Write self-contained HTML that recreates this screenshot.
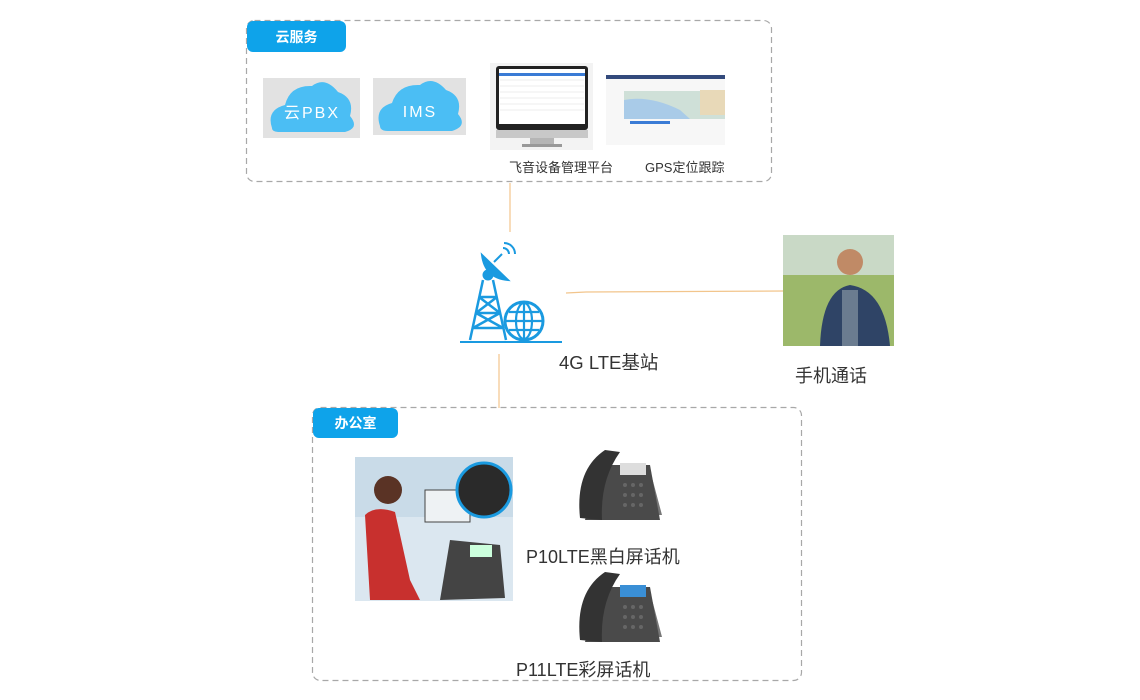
<!DOCTYPE html>
<html><head><meta charset="utf-8"><style>
body{margin:0;width:1140px;height:700px;background:#fff;position:relative;overflow:hidden;font-family:"Liberation Sans","Noto Sans CJK SC",sans-serif;}
.a{position:absolute}
.badge{position:absolute;background:#0ea3ea;color:#fff;font-weight:bold;font-size:14px;border-radius:6px;display:flex;align-items:center;justify-content:center}
.lbl{position:absolute;color:#333;white-space:nowrap}
</style></head><body>
<svg class="a" style="left:0;top:0" width="1140" height="700">
<rect x="246.5" y="20.5" width="525" height="161" rx="8" fill="none" stroke="#a8a8a8" stroke-width="1.2" stroke-dasharray="6,4"/>
<rect x="312.5" y="407.5" width="489" height="273" rx="8" fill="none" stroke="#a8a8a8" stroke-width="1.2" stroke-dasharray="6,4"/>
</svg>
<div class="badge" style="left:247px;top:21px;width:99px;height:31px">云服务</div>
<div class="badge" style="left:313px;top:408px;width:85px;height:30px">办公室</div>

<svg class="a" style="left:0;top:0" width="1140" height="700">
<g stroke="#f2c58c" stroke-width="1.2" fill="none">
<line x1="510" y1="183" x2="510" y2="232"/>
<polyline points="566,293 586,292 784,291"/>
<line x1="499" y1="354" x2="499" y2="408"/>
</g>
<rect x="263" y="78" width="97" height="60" fill="#e2e2e2"/>
<path d="M272 128 Q266 110 285 105 Q290 85 312 86 Q325 76 338 92 Q355 98 350 116 Q360 128 345 132 L280 132 Q272 132 272 128Z" fill="#4bbef4"/>
<rect x="373" y="78" width="93" height="57" fill="#e2e2e2"/>
<path d="M380 126 Q374 108 392 103 Q398 84 420 85 Q433 75 446 90 Q463 96 458 114 Q468 126 452 131 L388 131 Q380 131 380 126Z" fill="#4bbef4"/>
<text x="312" y="118" font-size="16" fill="#fff" text-anchor="middle" font-family="Liberation Sans,Noto Sans CJK SC,sans-serif" letter-spacing="2">云PBX</text>
<text x="420" y="117" font-size="16" fill="#fff" text-anchor="middle" font-family="Liberation Sans,sans-serif" letter-spacing="2">IMS</text>
<rect x="490" y="63" width="103" height="87" fill="#f3f3f3"/>
<rect x="496" y="66" width="92" height="64" rx="3" fill="#222"/>
<rect x="499" y="69" width="86" height="55" fill="#fff"/>
<rect x="499" y="73" width="86" height="3" fill="#3a7bd5"/>
<g stroke="#ddd" stroke-width="0.6"><line x1="500" y1="80" x2="584" y2="80"/><line x1="500" y1="86" x2="584" y2="86"/><line x1="500" y1="92" x2="584" y2="92"/><line x1="500" y1="98" x2="584" y2="98"/><line x1="500" y1="104" x2="584" y2="104"/><line x1="500" y1="110" x2="584" y2="110"/></g>
<rect x="496" y="130" width="92" height="8" fill="#c8c8c8"/>
<rect x="530" y="138" width="24" height="7" fill="#b5b5b5"/>
<rect x="522" y="144" width="40" height="3" fill="#999"/>
<rect x="606" y="75" width="119" height="70" fill="#f7f7f7"/>
<rect x="606" y="75" width="119" height="4" fill="#334a7c"/>
<rect x="624" y="91" width="101" height="28" fill="#cfe0d8"/>
<path d="M624 100 Q650 95 680 110 L690 119 L624 119Z" fill="#a9cbe8"/>
<rect x="700" y="90" width="25" height="25" fill="#e8d9b8"/>
<rect x="630" y="121" width="40" height="3" fill="#3a7bd5"/>
<g fill="#1a9ae0" stroke="#1a9ae0">
<path d="M482 255 Q485 278 508 280 Z" stroke-width="2"/>
<circle cx="488" cy="275" r="5"/>
<line x1="494" y1="262" x2="502" y2="254" stroke-width="2"/>
<path d="M503 248 a6 6 0 0 1 6 6 M504 243 a11 11 0 0 1 11 11" fill="none" stroke-width="2"/>
<g fill="none" stroke-width="2.5"><path d="M483 280 L470 340 M493 280 L506 340 M479 297 H497 M476 313 H500 M473 328 H503 M479 297 L500 313 M497 297 L476 313 M476 313 L503 328 M500 313 L473 328"/></g>
<circle cx="524" cy="321" r="19" fill="#fff" stroke-width="3"/>
<g fill="none" stroke-width="2.2"><ellipse cx="524" cy="321" rx="8" ry="18"/><line x1="524" y1="303" x2="524" y2="339"/><line x1="506" y1="321" x2="542" y2="321"/><line x1="509" y1="312" x2="539" y2="312"/><line x1="509" y1="330" x2="539" y2="330"/></g>
<line x1="460" y1="342" x2="562" y2="342" stroke-width="2"/>
</g>
<rect x="783" y="235" width="111" height="111" fill="#9cb86a"/>
<rect x="783" y="235" width="111" height="40" fill="#c9d9c6"/>
<circle cx="850" cy="262" r="13" fill="#c08a66"/>
<path d="M820 346 Q822 290 850 285 Q885 290 890 346Z" fill="#2f4466"/>
<rect x="842" y="290" width="16" height="56" fill="#6b7c90"/>
<rect x="355" y="457" width="158" height="144" fill="#dbe7f0"/>
<rect x="355" y="457" width="158" height="60" fill="#c9dbe8"/>
<path d="M370 600 L365 515 Q375 505 395 512 L410 580 L420 600Z" fill="#c8302e"/>
<circle cx="388" cy="490" r="14" fill="#5a3325"/>
<rect x="425" y="490" width="45" height="32" fill="#eef2f4" stroke="#444"/>
<circle cx="484" cy="490" r="27" fill="#2a2a2a" stroke="#1a9ae0" stroke-width="3"/>
<path d="M440 600 L450 540 L500 545 L505 598Z" fill="#444"/>
<rect x="470" y="545" width="22" height="12" fill="#cfd"/>
<g id="ph">
<path d="M650 470 L662 515 L655 515 Z" fill="#777"/>
<path d="M585 520 L600 465 L650 465 L660 520Z" fill="#4a4a4a"/>
<path d="M580 518 Q575 470 605 450 L620 452 Q600 480 602 520Z" fill="#333"/>
<rect x="620" y="463" width="26" height="12" fill="#ddd"/>
<g fill="#666"><circle cx="625" cy="485" r="2"/><circle cx="633" cy="485" r="2"/><circle cx="641" cy="485" r="2"/><circle cx="625" cy="495" r="2"/><circle cx="633" cy="495" r="2"/><circle cx="641" cy="495" r="2"/><circle cx="625" cy="505" r="2"/><circle cx="633" cy="505" r="2"/><circle cx="641" cy="505" r="2"/></g>
</g>
<use href="#ph" transform="translate(0,122)"/>
<rect x="620" y="585" width="26" height="12" fill="#3a8fd6"/>
</svg>

<div class="lbl" style="left:509px;top:157px;font-size:13px">飞音设备管理平台</div>
<div class="lbl" style="left:645px;top:157px;font-size:13px">GPS定位跟踪</div>
<div class="lbl" style="left:559px;top:349px;font-size:18.5px">4G LTE基站</div>
<div class="lbl" style="left:795px;top:362px;font-size:18px">手机通话</div>
<div class="lbl" style="left:526px;top:543px;font-size:18px">P10LTE黑白屏话机</div>
<div class="lbl" style="left:516px;top:656px;font-size:18px">P11LTE彩屏话机</div>
</body></html>
